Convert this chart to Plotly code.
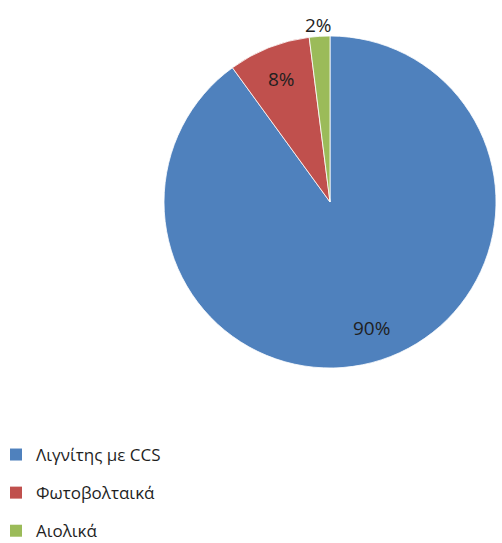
import math
import plotly.graph_objects as go

# Share of electricity generation by source
labels = ["Λιγνίτης με CCS", "Φωτοβολταικά", "Αιολικά"]
values = [90, 8, 2]
colors = ["#4F81BD", "#C0504D", "#9BBB59"]
# radial placement of each percentage label, as a fraction of the radius
label_radius = [0.8, 0.8, 1.07]

W, H = 502, 543
FONT = "Open Sans"
TEXT = "#1f1f1f"

# pie geometry in pixels
CX, CY, R = 330, 202, 166
dom_x = [(CX - R) / W, (CX + R) / W]
dom_y = [(H - CY - R) / H, (H - CY + R) / H]

fig = go.Figure()

fig.add_trace(go.Pie(
    labels=labels,
    values=values,
    sort=False,
    direction="clockwise",
    rotation=0,
    marker=dict(colors=colors, line=dict(color="white", width=0.8)),
    textinfo="none",
    domain=dict(x=dom_x, y=dom_y),
    showlegend=False,
    hoverinfo="label+percent",
))

# percentage labels at each slice's middle angle
total = sum(values)
start = 0.0
for v, f in zip(values, label_radius):
    mid = 2 * math.pi * (start + v / 2) / total
    start += v
    px = CX + f * R * math.sin(mid)
    py = CY - f * R * math.cos(mid)
    fig.add_annotation(
        x=px / W, y=1 - py / H, xref="paper", yref="paper",
        text=f"{round(100 * v / total)}%",
        showarrow=False,
        font=dict(family=FONT, size=19, color=TEXT),
        xanchor="center", yanchor="middle",
    )

# legend entries, one group per source so the rows can be spaced apart
for name, col in zip(labels, colors):
    fig.add_trace(go.Scatter(
        x=[None], y=[None],
        mode="markers",
        name=name,
        legendgroup=name,
        marker=dict(symbol="square", size=12, color=col),
        hoverinfo="skip",
    ))

fig.update_layout(
    width=W, height=H,
    margin=dict(l=0, r=0, t=0, b=0, autoexpand=False),
    paper_bgcolor="white",
    plot_bgcolor="white",
    xaxis=dict(visible=False),
    yaxis=dict(visible=False),
    legend=dict(
        x=-0.008, y=-0.011,
        xanchor="left", yanchor="bottom",
        traceorder="grouped",
        tracegroupgap=13,
        font=dict(family=FONT, size=17, color=TEXT),
        bgcolor="rgba(0,0,0,0)",
        itemclick=False,
    ),
    showlegend=True,
)

fig.write_html("out.html")
